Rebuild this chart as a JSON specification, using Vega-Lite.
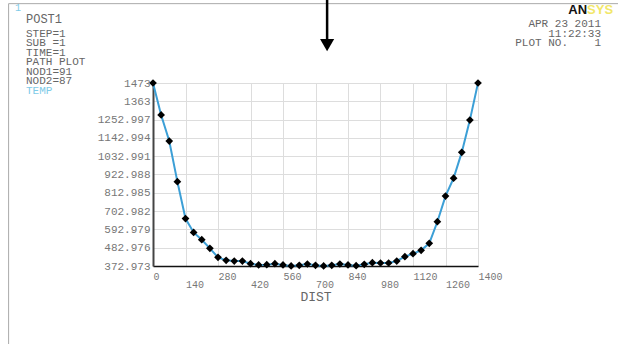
{
  "$schema": "https://vega.github.io/schema/vega-lite/v6.json",
  "width": 325,
  "height": 183,
  "autosize": {"type": "none"},
  "padding": {"left": 153, "top": 83, "right": 140, "bottom": 78},
  "background": "white",
  "resolve": {"axis": {"x": "independent", "y": "independent"}},
  "config": {
    "view": {"stroke": null},
    "mark": {"clip": false},
    "axis": {
      "grid": true, "gridColor": "#dddddd", "gridWidth": 1,
      "ticks": false,
      "labelFont": "Liberation Mono", "labelColor": "#777777",
      "labelOverlap": false, "labelFlush": false, "labelBound": false,
      "titleFont": "Liberation Mono", "titleFontWeight": "normal", "titleColor": "#666666"
    },
    "axisX": {"labelFontSize": 10, "labelAlign": "left", "labelBaseline": "top", "labelPadding": 5, "labelLineHeight": 8.5,
      "domainColor": "#111111", "domainWidth": 1.5, "titleFontSize": 13, "titlePadding": 1},
    "axisY": {"labelFontSize": 11, "labelPadding": 3, "domainColor": "#444444", "domainWidth": 2}
  },
  "datasets": {
    "temps": [
      {"dist": 0, "temp": 1473}, {"dist": 35, "temp": 1281}, {"dist": 70, "temp": 1124}, {"dist": 105, "temp": 880},
      {"dist": 140, "temp": 658}, {"dist": 175, "temp": 575}, {"dist": 210, "temp": 531}, {"dist": 245, "temp": 479},
      {"dist": 280, "temp": 425}, {"dist": 315, "temp": 407}, {"dist": 350, "temp": 403}, {"dist": 385, "temp": 403},
      {"dist": 420, "temp": 387}, {"dist": 455, "temp": 379}, {"dist": 490, "temp": 381}, {"dist": 525, "temp": 387},
      {"dist": 560, "temp": 379}, {"dist": 595, "temp": 373}, {"dist": 630, "temp": 377}, {"dist": 665, "temp": 385},
      {"dist": 700, "temp": 377}, {"dist": 735, "temp": 373}, {"dist": 770, "temp": 377}, {"dist": 805, "temp": 385},
      {"dist": 840, "temp": 379}, {"dist": 875, "temp": 375}, {"dist": 910, "temp": 383}, {"dist": 945, "temp": 393},
      {"dist": 980, "temp": 391}, {"dist": 1015, "temp": 391}, {"dist": 1050, "temp": 403}, {"dist": 1085, "temp": 429},
      {"dist": 1120, "temp": 447}, {"dist": 1155, "temp": 467}, {"dist": 1190, "temp": 509}, {"dist": 1225, "temp": 639},
      {"dist": 1260, "temp": 793}, {"dist": 1295, "temp": 901}, {"dist": 1330, "temp": 1056}, {"dist": 1365, "temp": 1250},
      {"dist": 1400, "temp": 1473}
    ],
    "one": [{"k": 1}]
  },
  "data": {"name": "temps"},
  "layer": [
    {"mark": {"type": "line", "color": "#3c9fd6", "strokeWidth": 2},
     "encoding": {
      "x": {"field": "dist", "type": "quantitative",
        "scale": {"domain": [0, 1400], "nice": false, "zero": false},
        "axis": {
          "title": "DIST", "grid": true, "labelOverlap": false,
          "values": [0, 140, 280, 420, 560, 700, 840, 980, 1120, 1260, 1400],
          "format": "d",
          "labelExpr": "datum.value % 280 === 0 ? datum.label : ['', datum.label]"
        }},
      "y": {"field": "temp", "type": "quantitative",
        "scale": {"domain": [372.973, 1473], "nice": false, "zero": false},
        "axis": {
          "title": null, "grid": true, "labelOverlap": false,
          "values": [372.973, 482.976, 592.979, 702.982, 812.985, 922.988, 1032.991, 1142.994, 1252.997, 1363, 1473],
          "format": ".7~g"
        }}
     }},
    {"mark": {"type": "point", "shape": "diamond", "filled": true, "color": "#000000", "size": 60, "opacity": 1},
     "encoding": {"x": {"field": "dist", "type": "quantitative", "axis": null}, "y": {"field": "temp", "type": "quantitative", "axis": null}}},
    {"data": {"name": "one"}, "mark": {"type": "rule", "color": "#aaaaaa", "strokeWidth": 1},
      "encoding": {"x": {"datum": -622, "axis": null}, "y": {"datum": 1950, "axis": null}, "y2": {"datum": -110}}},
    {"data": {"name": "one"}, "mark": {"type": "rule", "color": "#aaaaaa", "strokeWidth": 1},
      "encoding": {"x": {"datum": -622, "axis": null}, "x2": {"datum": 2010}, "y": {"datum": 1950, "axis": null}}},
    {"data": {"name": "one"}, "mark": {"type": "rule", "color": "#000000", "strokeWidth": 2.5},
      "encoding": {"x": {"datum": 750, "axis": null}, "y": {"datum": 1980, "axis": null}, "y2": {"datum": 1720}}},
    {"data": {"name": "one"}, "mark": {"type": "point", "shape": "triangle-down", "filled": true, "color": "#000000", "size": 200, "opacity": 1},
      "encoding": {"x": {"datum": 750, "axis": null}, "y": {"datum": 1700, "axis": null}}},
    {"data": {"name": "one"}, "mark": {"type": "text", "font": "Liberation Mono", "fontSize": 10, "color": "#7fcbe8", "align": "left", "baseline": "middle"},
      "encoding": {"text": {"value": "1"}, "x": {"datum": -594, "axis": null}, "y": {"datum": 1922, "axis": null}}},
    {"data": {"name": "one"}, "mark": {"type": "text", "font": "Liberation Mono", "fontSize": 12, "color": "#666666", "align": "left", "baseline": "middle"},
      "encoding": {"text": {"value": "POST1"}, "x": {"datum": -547, "axis": null}, "y": {"datum": 1856, "axis": null}}},
    {"data": {"name": "one"}, "mark": {"type": "text", "lineHeight": 9.5, "font": "Liberation Mono", "fontSize": 11, "color": "#666666", "align": "left", "baseline": "middle"},
      "encoding": {"text": {"value": ["STEP=1", "SUB\u00a0=1", "TIME=1", "PATH\u00a0PLOT", "NOD1=91", "NOD2=87"]}, "x": {"datum": -547, "axis": null}, "y": {"datum": 1769, "axis": null}}},
    {"data": {"name": "one"}, "mark": {"type": "text", "font": "Liberation Mono", "fontSize": 11, "color": "#7fcbe8", "align": "left", "baseline": "middle"},
      "encoding": {"text": {"value": "TEMP"}, "x": {"datum": -547, "axis": null}, "y": {"datum": 1425, "axis": null}}},
    {"data": {"name": "one"}, "mark": {"type": "text", "lineHeight": 9.5, "font": "Liberation Mono", "fontSize": 11, "color": "#666666", "align": "right", "baseline": "middle"},
      "encoding": {"text": {"value": ["APR\u00a023\u00a02011", "11:22:33", "PLOT\u00a0NO.\u00a0\u00a0\u00a0\u00a01"]}, "x": {"datum": 1930, "axis": null}, "y": {"datum": 1826, "axis": null}}},
    {"data": {"name": "one"}, "mark": {"type": "text", "font": "Liberation Sans", "fontSize": 13, "fontWeight": "bold", "color": "#111111", "align": "right", "baseline": "middle"},
      "encoding": {"text": {"value": "AN"}, "x": {"datum": 1870, "axis": null}, "y": {"datum": 1913, "axis": null}}},
    {"data": {"name": "one"}, "mark": {"type": "text", "font": "Liberation Sans", "fontSize": 13, "fontWeight": "bold", "color": "#f2e76a", "align": "left", "baseline": "middle"},
      "encoding": {"text": {"value": "SYS"}, "x": {"datum": 1870, "axis": null}, "y": {"datum": 1913, "axis": null}}}
  ]
}
